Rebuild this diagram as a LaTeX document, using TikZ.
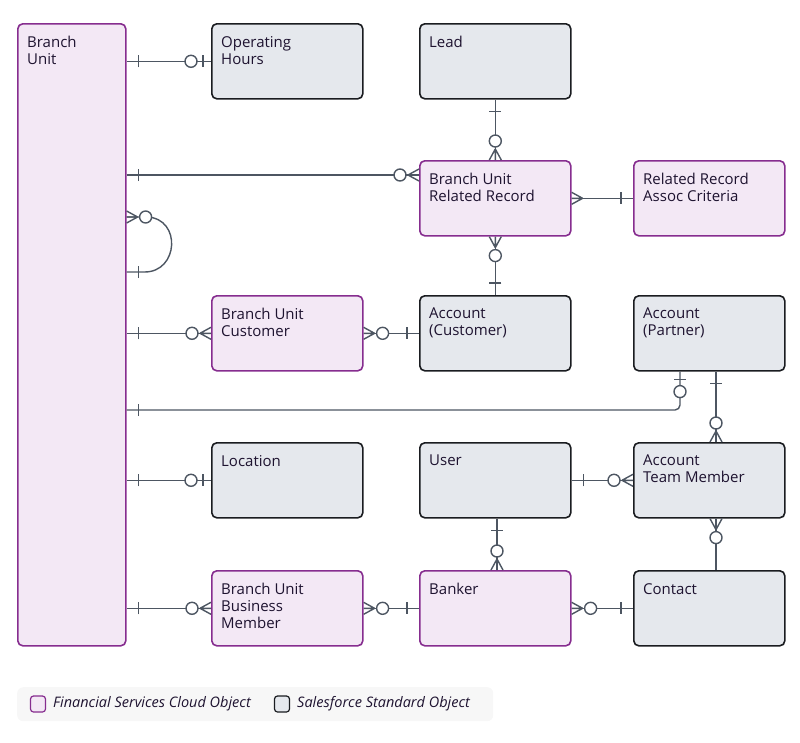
\documentclass[tikz,border=0pt]{standalone}
\usepackage{fontspec}
\setmainfont{Open Sans}
\usetikzlibrary{calc}
\definecolor{pbord}{HTML}{862D8F}
\definecolor{pfill}{HTML}{F3E8F5}
\definecolor{gbord}{HTML}{1A1C20}
\definecolor{gfill}{HTML}{E5E8ED}
\definecolor{lnc}{HTML}{4D5662}
\definecolor{txt}{HTML}{1E1330}
\tikzset{
  x=1pt,y=-1pt,
  fsc/.style={draw=pbord,fill=pfill,line width=1.6pt,rounded corners=5pt,anchor=north west,minimum width=151pt,minimum height=75pt,inner sep=0pt},
  std/.style={draw=gbord,fill=gfill,line width=1.6pt,rounded corners=5pt,anchor=north west,minimum width=151pt,minimum height=75pt,inner sep=0pt},
  lbl/.style={anchor=north west,align=left,font=\fontsize{15}{17}\selectfont,text=txt,inner sep=0pt},
  leglbl/.style={anchor=west,font=\fontsize{14.5}{16}\selectfont\itshape,text=txt,inner sep=0pt},
  conn/.style={draw=lnc,line width=1.4pt},
  pics/onebar/.style={code={\draw[conn] (-12,-6)--(-12,6);}},
  pics/zeroone/.style={code={\draw[conn] (-8,-6)--(-8,6); \draw[conn,fill=white] (-20,0) circle (6);}},
  pics/many/.style={code={\draw[conn] (-11,0)--(0,6) (-11,0)--(0,-6) (-11,0)--(0,0);}},
  pics/zeromany/.style={code={\draw[conn] (-11,0)--(0,6) (-11,0)--(0,-6) (-11,0)--(0,0); \draw[conn,fill=white] (-19,0) circle (6);}},
}
\begin{document}
\begin{tikzpicture}
\useasboundingbox (0,0) rectangle (800,742);
\node[fsc,minimum width=108pt,minimum height=622pt] (bu) at (17,23) {};
\node[std] (oh) at (211,23) {};
\node[std] (lead) at (419,23) {};
\node[fsc] (burr) at (419,160) {};
\node[fsc] (rrac) at (633,160) {};
\node[fsc] (buc) at (211,295) {};
\node[std] (accc) at (419,295) {};
\node[std] (accp) at (633,295) {};
\node[std] (loc) at (211,442) {};
\node[std] (user) at (419,442) {};
\node[std] (atm) at (633,442) {};
\node[fsc] (bubm) at (211,570) {};
\node[fsc] (bank) at (419,570) {};
\node[std] (cont) at (633,570) {};
\foreach \n/\t in {bu/Branch\\Unit, oh/Operating\\Hours, lead/Lead, burr/Branch Unit\\Related Record, rrac/Related Record\\Assoc Criteria, buc/Branch Unit\\Customer, accc/Account\\(Customer), accp/Account\\(Partner), loc/Location, user/User, atm/Account\\Team Member, bubm/Branch Unit\\Business\\Member, bank/Banker, cont/Contact}
  \node[lbl] (\n-t) at ($(\n.north west)+(10,13)$) {\t};
% connectors
\coordinate (a1) at (bu.east |- oh.west);
\draw[conn] (a1) -- (oh.west);
\pic[rotate=180] at (a1) {onebar}; \pic at (oh.west) {zeroone};
\coordinate (a2) at ($(bu.north east)+(0,152)$); \coordinate (b2) at ($(burr.north west)+(0,15)$);
\draw[conn] (a2) -- (b2); \pic[rotate=180] at (a2) {onebar}; \pic at (b2) {zeromany};
\draw[conn] (lead.south -| burr.north) -- (burr.north);
\pic[rotate=90] at (lead.south) {onebar}; \pic[rotate=270] at (burr.north) {zeromany};
\draw[conn] (burr.east) -- (rrac.west);
\pic[rotate=180] at (burr.east) {many}; \pic at (rrac.west) {onebar};
\draw[conn] (burr.south) -- (accc.north);
\pic[rotate=90] at (burr.south) {zeromany}; \pic[rotate=270] at (accc.north) {onebar};
\coordinate (s1) at ($(bu.north east)+(0,194)$); \coordinate (s2) at ($(bu.north east)+(0,249)$);
\draw[conn] (s1) -- ++(21,0) .. controls +(34,2) and +(34,0) .. ($(s2)+(18,0)$) -- (s2);
\pic[rotate=180] at (s1) {zeromany}; \pic[rotate=180] at (s2) {onebar};
\coordinate (a3) at (bu.east |- buc.west);
\draw[conn] (a3) -- (buc.west); \pic[rotate=180] at (a3) {onebar}; \pic at (buc.west) {zeromany};
\draw[conn] (buc.east) -- (accc.west); \pic[rotate=180] at (buc.east) {zeromany}; \pic at (accc.west) {onebar};
\coordinate (a4) at ($(bu.north east)+(0,387)$); \coordinate (b4) at ($(accp.south west)+(47,0)$);
\draw[conn,rounded corners=5pt] (a4) -| (b4);
\pic[rotate=180] at (a4) {onebar}; \pic[rotate=90] at (b4) {zeroone};
\coordinate (a5) at (bu.east |- loc.west);
\draw[conn] (a5) -- (loc.west); \pic[rotate=180] at (a5) {onebar}; \pic at (loc.west) {zeroone};
\coordinate (b6) at ($(accp.south west)+(83,0)$); \coordinate (c6) at ($(atm.north west)+(83,0)$);
\draw[conn] (b6) -- (c6); \pic[rotate=90] at (b6) {onebar}; \pic[rotate=270] at (c6) {zeromany};
\draw[conn] (user.east) -- (atm.west); \pic[rotate=180] at (user.east) {onebar}; \pic at (atm.west) {zeromany};
\coordinate (b7) at ($(atm.south west)+(83,0)$); \coordinate (c7) at ($(cont.north west)+(83,0)$);
\draw[conn] (b7) -- (c7); \pic[rotate=90] at (b7) {zeromany};
\coordinate (b8) at ($(user.south west)+(78,0)$); \coordinate (c8) at ($(bank.north west)+(78,0)$);
\draw[conn] (b8) -- (c8); \pic[rotate=90] at (b8) {onebar}; \pic[rotate=270] at (c8) {zeromany};
\coordinate (a9) at (bu.east |- bubm.west);
\draw[conn] (a9) -- (bubm.west); \pic[rotate=180] at (a9) {onebar}; \pic at (bubm.west) {zeromany};
\draw[conn] (bubm.east) -- (bank.west); \pic[rotate=180] at (bubm.east) {zeromany}; \pic at (bank.west) {onebar};
\draw[conn] (bank.east) -- (cont.west); \pic[rotate=180] at (bank.east) {zeromany}; \pic at (cont.west) {onebar};
% legend
\node[fill=black!3,rounded corners=6pt,anchor=north west,minimum width=476pt,minimum height=34pt] (leg) at (17,687) {};
\node[draw=pbord,fill=pfill,line width=1.2pt,rounded corners=3pt,minimum width=15pt,minimum height=16pt] (lk1) at (38,704) {};
\node[leglbl] (lt1) at (53,704) {Financial Services Cloud Object};
\node[draw=gbord,fill=gfill,line width=1.2pt,rounded corners=3pt,minimum width=15pt,minimum height=16pt] (lk2) at (282,704) {};
\node[leglbl] (lt2) at (297,704) {Salesforce Standard Object};
\end{tikzpicture}
\end{document}
